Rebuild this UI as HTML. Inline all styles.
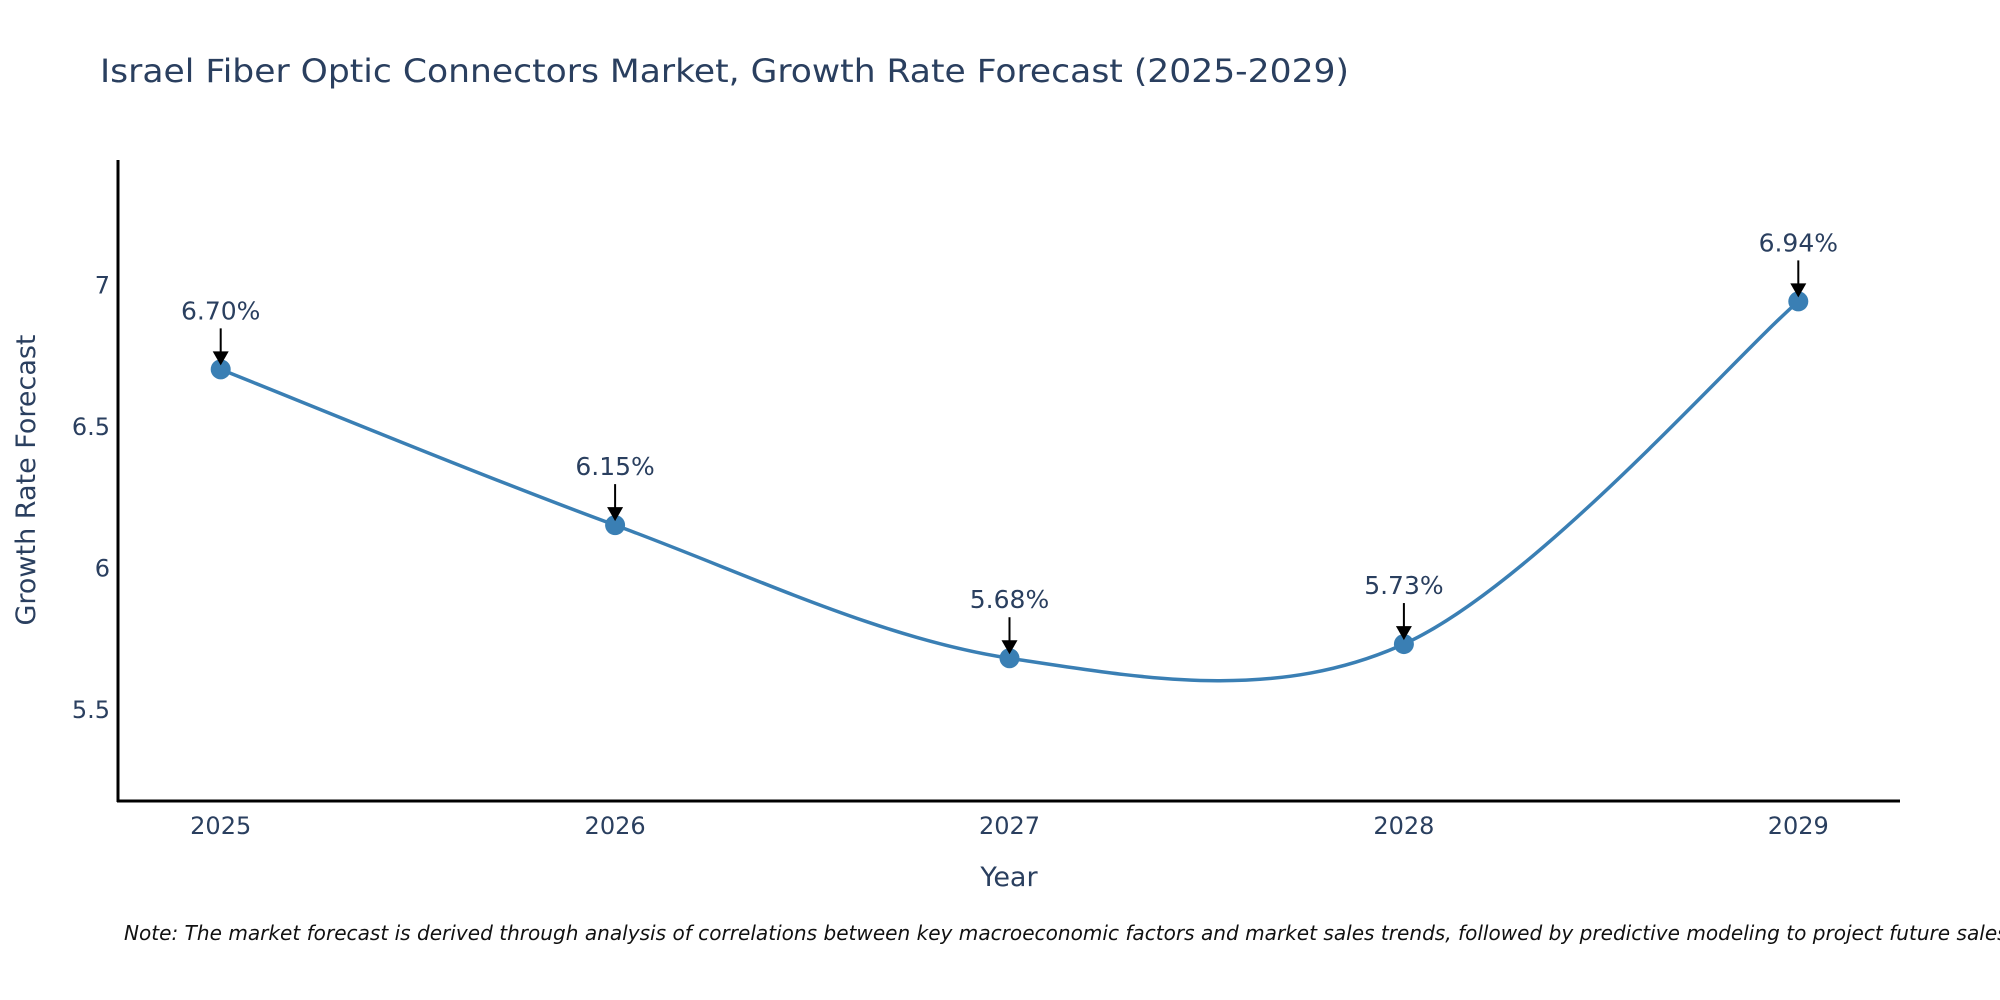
<!DOCTYPE html>
<html><head><meta charset="utf-8"><style>
html,body{margin:0;padding:0;background:#fff;}
svg{display:block;font-family:"DejaVu Sans","Liberation Sans",sans-serif;}
</style></head><body>
<svg id="chart" width="2000" height="1000" viewBox="0 0 2000 1000">
<text x="100" y="82" font-size="32" fill="#2a3f5f" textLength="1249" lengthAdjust="spacingAndGlyphs">Israel Fiber Optic Connectors Market, Growth Rate Forecast (2025-2029)</text>
<g id="grid"></g>
<g id="series"></g>
<line x1="118" y1="160" x2="118" y2="802" stroke="#000" stroke-width="3"/>
<line x1="117" y1="801" x2="1900" y2="801" stroke="#000" stroke-width="3"/>
<text x="1009" y="886" font-size="27" fill="#2a3f5f" text-anchor="middle">Year</text>
<text x="0" y="0" font-size="27" fill="#2a3f5f" text-anchor="middle" transform="translate(35,480) rotate(-90)">Growth Rate Forecast</text>
<text x="124" y="940" font-size="20" font-style="italic" fill="#111" textLength="1890" lengthAdjust="spacingAndGlyphs">Note: The market forecast is derived through analysis of correlations between key macroeconomic factors and market sales trends, followed by predictive modeling to project future sales.</text>
</svg>
<script>
const categories = [2025, 2026, 2027, 2028, 2029];
const values = [6.70, 6.15, 5.68, 5.73, 6.94];
const valueLabels = ["6.70%", "6.15%", "5.68%", "5.73%", "6.94%"];
const yTicks = [5.5, 6, 6.5, 7];
const yTickLabels = ["5.5", "6", "6.5", "7"];

const NS = "http://www.w3.org/2000/svg";
const grid = document.getElementById("grid");
const series = document.getElementById("series");
function xScale(c){ return 220.7 + (c - categories[0]) * 394.4; }
function yScale(v){ return 284.4 - (v - 7) * 283.2; }
function mk(tag, attrs, parent){ const e=document.createElementNS(NS,tag); for(const k in attrs) e.setAttribute(k, attrs[k]); parent.appendChild(e); return e; }

yTicks.forEach((t,i)=>{
  const tx = mk("text",{x:110,y:yScale(t)+9,"font-size":24,fill:"#2a3f5f","text-anchor":"end"},grid);
  
  
  tx.textContent = yTickLabels[i];
});
categories.forEach(c=>{
  const tx = mk("text",{x:xScale(c),y:834,"font-size":24,fill:"#2a3f5f","text-anchor":"middle"},grid);
  
  
  tx.textContent = String(c);
});

const pts = categories.map((c,i)=>[xScale(c), yScale(values[i])]);
const s = 0.33;
let d = "M" + pts[0][0] + "," + pts[0][1];
for(let i=0;i<pts.length-1;i++){
  const p0 = pts[i-1] || pts[i], p1 = pts[i], p2 = pts[i+1], p3 = pts[i+2] || pts[i+1];
  const c1 = [p1[0] + (p2[0]-p0[0])*s/2, p1[1] + (p2[1]-p0[1])*s/2];
  const c2 = [p2[0] - (p3[0]-p1[0])*s/2, p2[1] - (p3[1]-p1[1])*s/2];
  d += " C" + c1[0] + "," + c1[1] + " " + c2[0] + "," + c2[1] + " " + p2[0] + "," + p2[1];
}
const line = mk("path",{d:d,fill:"none",stroke:"#3a7fb4","stroke-width":3.5},series);



pts.forEach((p,i)=>{
  const m = mk("circle",{cx:p[0],cy:p[1],r:10,fill:"#3a7fb4"},series);
  
  
  const a = mk("line",{x1:p[0],y1:p[1]-41,x2:p[0],y2:p[1]-16,stroke:"#000","stroke-width":2},series);
  
  
  const h = mk("polygon",{points:(p[0]-8)+","+(p[1]-18)+" "+(p[0]+8)+","+(p[1]-18)+" "+p[0]+","+(p[1]-4),fill:"#000"},series);
  
  
  const t = mk("text",{x:p[0],y:p[1]-50,"font-size":25,fill:"#2a3f5f","text-anchor":"middle"},series);
  
  
  t.textContent = valueLabels[i];
});
</script>
</body></html>
